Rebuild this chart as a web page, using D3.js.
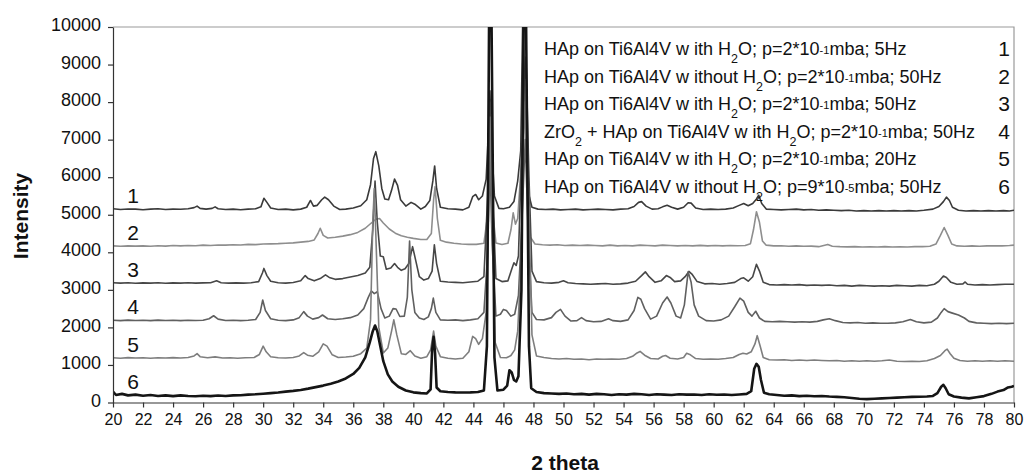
<!DOCTYPE html>
<html>
<head>
<meta charset="utf-8">
<script src="https://cdn.jsdelivr.net/npm/d3@7"></script>
<style>
  body { margin: 0; background: #fff; }
  text { font-family: "Liberation Sans", Arial, sans-serif; fill: #111; }
</style>
</head>
<body>
<svg id="chart"></svg>
<script>
const width = 1025;
const height = 474;
const margin = { top: 27, right: 11, bottom: 71.5, left: 113 };

// tick values
const xTicks = [20, 22, 24, 26, 28, 30, 32, 34, 36, 38, 40, 42, 44, 46, 48, 50,
  52, 54, 56, 58, 60, 62, 64, 66, 68, 70, 72, 74, 76, 78, 80];
const yTicks = [0, 1000, 2000, 3000, 4000, 5000, 6000, 7000, 8000, 9000, 10000];

const seriesNames = ["1", "2", "3", "4", "5", "6"];
const seriesColors = ["#3a3a3a", "#8e8e8e", "#474747", "#606060", "#7e7e7e", "#151515"];
const seriesWidths = [1.6, 1.6, 1.6, 1.6, 1.6, 2.6];

// [2 theta, intensity]
const s1 = [[20.0,5160],[20.5,5140],[21.0,5155],[21.5,5150],[22.0,5135],[22.5,5150],[23.0,5160],[23.5,5140],[24.0,5150],[24.5,5145],[25.0,5160],[25.4,5190],[25.6,5230],[25.8,5170],[26.2,5150],[26.6,5170],[26.8,5210],[27.0,5160],[27.5,5140],[28.0,5150],[28.5,5135],[29.0,5150],[29.5,5160],[29.85,5210],[30.05,5440],[30.25,5330],[30.5,5180],[31.0,5140],[31.5,5150],[32.0,5130],[32.5,5150],[32.9,5200],[33.15,5380],[33.35,5230],[33.6,5250],[33.9,5400],[34.1,5470],[34.35,5400],[34.7,5230],[35.1,5140],[35.5,5150],[36.0,5180],[36.5,5240],[36.9,5400],[37.15,5800],[37.35,6500],[37.5,6680],[37.7,6300],[37.9,5700],[38.1,5420],[38.35,5400],[38.55,5650],[38.75,5950],[38.95,5780],[39.15,5400],[39.5,5230],[39.85,5330],[40.1,5280],[40.5,5150],[40.8,5220],[41.1,5380],[41.3,5900],[41.42,6300],[41.55,5700],[41.8,5200],[42.3,5160],[42.8,5150],[43.3,5130],[43.7,5200],[43.95,5480],[44.15,5540],[44.35,5400],[44.6,5500],[44.85,5950],[45.0,7200],[45.1,8300],[45.2,7000],[45.4,5500],[45.7,5170],[46.0,5160],[46.4,5200],[46.7,5350],[46.95,5900],[47.15,6700],[47.3,10600],[47.45,7500],[47.65,5600],[47.9,5200],[48.3,5150],[48.8,5140],[49.3,5150],[49.8,5130],[50.3,5140],[50.8,5150],[51.3,5130],[51.8,5140],[52.3,5150],[52.8,5140],[53.3,5130],[53.8,5150],[54.3,5160],[54.7,5220],[55.0,5330],[55.2,5350],[55.5,5230],[55.9,5150],[56.3,5160],[56.6,5210],[56.9,5250],[57.2,5200],[57.6,5150],[58.0,5200],[58.3,5320],[58.5,5310],[58.8,5180],[59.3,5140],[59.8,5150],[60.3,5140],[60.8,5150],[61.3,5180],[61.7,5250],[62.0,5300],[62.3,5240],[62.6,5300],[62.85,5420],[63.0,5520],[63.2,5300],[63.5,5150],[64.0,5140],[64.5,5130],[65.0,5140],[65.5,5150],[66.0,5130],[66.5,5140],[67.0,5120],[67.5,5130],[68.0,5120],[68.5,5110],[69.0,5120],[69.5,5100],[70.0,5110],[70.5,5100],[71.0,5110],[71.5,5100],[72.0,5110],[72.5,5100],[73.0,5110],[73.5,5100],[74.0,5120],[74.6,5150],[75.0,5220],[75.3,5350],[75.5,5470],[75.7,5380],[75.9,5200],[76.3,5120],[76.8,5100],[77.3,5110],[77.8,5100],[78.3,5110],[78.8,5100],[79.3,5110],[79.7,5100],[80.0,5120]];

const s2 = [[20.0,4170],[20.5,4160],[21.0,4170],[21.5,4165],[22.0,4170],[22.5,4160],[23.0,4175],[23.5,4165],[24.0,4180],[24.5,4170],[25.0,4180],[25.5,4175],[26.0,4190],[26.5,4180],[27.0,4195],[27.5,4190],[28.0,4200],[28.5,4195],[29.0,4210],[29.5,4205],[30.0,4220],[30.5,4225],[31.0,4230],[31.5,4240],[32.0,4250],[32.5,4270],[33.0,4290],[33.4,4330],[33.65,4500],[33.8,4640],[34.0,4450],[34.3,4380],[34.8,4400],[35.3,4430],[35.8,4470],[36.3,4530],[36.8,4640],[37.2,4780],[37.5,4880],[37.75,4900],[38.0,4780],[38.4,4620],[38.8,4510],[39.2,4440],[39.6,4400],[40.0,4370],[40.5,4340],[40.9,4340],[41.2,4500],[41.35,5400],[41.45,5750],[41.6,4900],[41.8,4320],[42.2,4270],[42.7,4240],[43.2,4220],[43.7,4210],[44.2,4210],[44.7,4240],[44.95,5000],[45.1,7000],[45.25,5200],[45.5,4250],[45.9,4210],[46.3,4240],[46.5,4600],[46.65,5050],[46.8,4750],[46.95,4900],[47.1,5800],[47.4,8000],[47.6,6000],[47.8,4400],[48.1,4220],[48.6,4200],[49.1,4190],[49.6,4200],[50.1,4180],[50.6,4190],[51.1,4180],[51.6,4190],[52.1,4180],[52.6,4170],[53.1,4190],[53.6,4170],[54.1,4180],[54.6,4170],[55.1,4190],[55.6,4180],[56.1,4170],[56.6,4190],[57.1,4180],[57.6,4170],[58.1,4180],[58.6,4170],[59.1,4185],[59.6,4170],[60.1,4180],[60.6,4170],[61.1,4180],[61.6,4175],[62.1,4180],[62.45,4230],[62.65,4600],[62.85,5080],[63.05,4800],[63.25,4300],[63.5,4190],[64.0,4170],[64.5,4175],[65.0,4160],[65.5,4170],[66.0,4160],[66.5,4165],[67.0,4150],[67.4,4190],[67.6,4210],[67.9,4160],[68.4,4150],[68.9,4145],[69.4,4150],[69.9,4140],[70.4,4145],[70.9,4140],[71.4,4150],[71.9,4140],[72.4,4145],[72.9,4140],[73.4,4150],[73.9,4150],[74.4,4160],[74.8,4220],[75.1,4450],[75.35,4660],[75.6,4450],[75.85,4220],[76.2,4170],[76.7,4160],[77.2,4170],[77.7,4160],[78.2,4170],[78.7,4175],[79.2,4170],[79.7,4180],[80.0,4190]];

const s3 = [[20.0,3190],[20.5,3180],[21.0,3190],[21.5,3175],[22.0,3185],[22.5,3180],[23.0,3190],[23.5,3175],[24.0,3185],[24.5,3180],[25.0,3190],[25.5,3180],[26.0,3185],[26.5,3190],[26.9,3240],[27.2,3190],[27.7,3180],[28.2,3185],[28.7,3180],[29.2,3190],[29.7,3220],[29.95,3450],[30.05,3570],[30.25,3380],[30.5,3230],[31.0,3190],[31.5,3180],[32.0,3195],[32.5,3240],[32.8,3380],[33.0,3300],[33.4,3240],[33.8,3300],[34.15,3400],[34.4,3330],[34.8,3280],[35.3,3300],[35.8,3340],[36.3,3380],[36.8,3450],[37.1,3600],[37.3,4600],[37.45,5900],[37.6,4800],[37.8,3900],[38.0,3880],[38.2,3550],[38.5,3580],[38.75,3700],[38.95,3600],[39.2,3520],[39.45,3560],[39.7,3700],[39.95,4150],[40.15,3800],[40.4,3350],[40.7,3260],[41.0,3300],[41.25,3500],[41.4,4200],[41.55,3700],[41.8,3230],[42.3,3210],[42.8,3200],[43.3,3190],[43.8,3210],[44.3,3230],[44.7,3350],[44.95,5500],[45.1,8000],[45.25,5800],[45.5,3300],[45.9,3220],[46.3,3240],[46.55,3550],[46.7,3720],[46.85,3650],[47.0,3900],[47.2,6500],[47.5,9200],[47.7,6000],[47.9,3500],[48.2,3220],[48.7,3190],[49.2,3180],[49.7,3200],[50.0,3240],[50.3,3190],[50.8,3170],[51.3,3160],[51.8,3150],[52.3,3160],[52.8,3170],[53.3,3150],[53.8,3160],[54.3,3180],[54.8,3230],[55.2,3380],[55.45,3480],[55.7,3350],[56.1,3200],[56.5,3240],[56.85,3380],[57.1,3330],[57.4,3220],[57.8,3240],[58.1,3350],[58.35,3490],[58.55,3420],[58.9,3220],[59.4,3160],[59.9,3170],[60.4,3150],[60.9,3170],[61.4,3200],[61.8,3300],[62.0,3320],[62.3,3230],[62.6,3350],[62.85,3680],[63.05,3500],[63.3,3200],[63.7,3140],[64.2,3130],[64.7,3140],[65.2,3130],[65.7,3140],[66.2,3120],[66.7,3130],[67.2,3120],[67.7,3130],[68.2,3110],[68.7,3120],[69.2,3100],[69.7,3120],[70.2,3110],[70.7,3100],[71.2,3110],[71.7,3100],[72.2,3120],[72.7,3110],[73.2,3100],[73.7,3120],[74.2,3110],[74.7,3150],[75.0,3230],[75.3,3370],[75.5,3330],[75.8,3200],[76.2,3150],[76.6,3160],[76.75,3210],[76.9,3150],[77.4,3130],[77.9,3140],[78.4,3130],[78.9,3140],[79.4,3150],[80.0,3150]];

const s4 = [[20.0,2190],[20.5,2180],[21.0,2195],[21.5,2185],[22.0,2190],[22.5,2180],[23.0,2195],[23.5,2185],[24.0,2190],[24.5,2180],[25.0,2190],[25.5,2185],[26.0,2190],[26.4,2230],[26.7,2310],[27.0,2220],[27.5,2185],[28.0,2190],[28.5,2180],[29.0,2190],[29.5,2210],[29.8,2400],[29.97,2730],[30.15,2450],[30.5,2230],[31.0,2190],[31.5,2180],[32.0,2200],[32.4,2260],[32.7,2420],[32.95,2300],[33.3,2220],[33.7,2260],[33.95,2330],[34.3,2230],[34.8,2210],[35.3,2230],[35.8,2260],[36.3,2330],[36.7,2500],[37.0,2800],[37.2,2970],[37.4,2900],[37.6,2950],[37.85,2500],[38.1,2250],[38.4,2300],[38.65,2500],[38.85,2490],[39.1,2290],[39.4,2300],[39.6,2800],[39.75,4300],[39.9,3000],[40.1,2400],[40.4,2250],[40.7,2210],[41.0,2280],[41.2,2500],[41.33,2780],[41.5,2400],[41.8,2200],[42.3,2190],[42.8,2200],[43.3,2180],[43.8,2200],[44.3,2230],[44.7,2400],[44.95,4000],[45.1,6400],[45.25,4200],[45.5,2300],[45.8,2350],[46.0,2480],[46.2,2450],[46.5,2300],[46.75,2350],[47.0,2850],[47.2,4500],[47.45,7000],[47.65,4500],[47.9,2400],[48.2,2210],[48.7,2200],[49.2,2260],[49.5,2400],[49.8,2480],[50.1,2300],[50.5,2170],[50.9,2180],[51.2,2260],[51.5,2180],[52.0,2150],[52.5,2160],[53.0,2230],[53.3,2180],[53.8,2160],[54.3,2200],[54.7,2450],[54.95,2800],[55.15,2750],[55.4,2500],[55.8,2220],[56.2,2300],[56.6,2650],[56.9,2810],[57.15,2650],[57.5,2300],[57.8,2250],[58.05,2600],[58.3,3480],[58.5,3200],[58.7,2600],[59.0,2300],[59.5,2180],[60.0,2170],[60.5,2200],[61.0,2300],[61.4,2550],[61.75,2780],[62.0,2700],[62.3,2400],[62.55,2300],[62.8,2430],[63.05,2250],[63.4,2160],[63.9,2150],[64.4,2160],[64.9,2150],[65.4,2140],[65.9,2150],[66.4,2140],[66.9,2160],[67.3,2200],[67.7,2230],[68.1,2180],[68.6,2130],[69.1,2120],[69.6,2130],[70.1,2110],[70.6,2120],[71.1,2110],[71.6,2110],[72.1,2120],[72.6,2150],[73.1,2210],[73.5,2150],[74.0,2120],[74.5,2140],[74.9,2250],[75.15,2400],[75.35,2500],[75.6,2420],[75.9,2380],[76.3,2330],[76.7,2250],[77.0,2160],[77.5,2120],[78.0,2110],[78.5,2100],[79.0,2110],[79.5,2100],[80.0,2110]];

const s5 = [[20.0,1190],[20.5,1180],[21.0,1195],[21.5,1185],[22.0,1190],[22.5,1180],[23.0,1190],[23.5,1185],[24.0,1195],[24.5,1185],[25.0,1200],[25.4,1240],[25.6,1300],[25.8,1220],[26.3,1190],[26.8,1215],[27.3,1185],[27.8,1190],[28.3,1180],[28.8,1190],[29.4,1200],[29.75,1280],[30.0,1500],[30.2,1350],[30.5,1220],[31.0,1190],[31.5,1185],[32.0,1200],[32.4,1240],[32.7,1330],[32.95,1260],[33.3,1230],[33.7,1350],[34.0,1560],[34.25,1500],[34.6,1270],[35.0,1200],[35.5,1210],[36.0,1230],[36.5,1300],[36.9,1450],[37.15,2200],[37.3,4800],[37.4,5700],[37.5,4500],[37.7,2000],[38.0,1320],[38.3,1450],[38.55,1900],[38.7,2200],[38.9,1800],[39.2,1300],[39.5,1280],[39.8,1380],[40.1,1240],[40.5,1180],[40.9,1220],[41.15,1400],[41.35,1900],[41.5,1500],[41.8,1220],[42.3,1180],[42.8,1160],[43.3,1180],[43.7,1350],[43.95,1760],[44.15,1700],[44.35,1550],[44.6,1700],[44.85,2400],[45.0,5000],[45.1,7600],[45.25,5000],[45.45,1600],[45.8,1200],[46.2,1190],[46.5,1250],[46.75,1400],[46.95,1900],[47.15,3500],[47.35,7000],[47.5,8600],[47.7,5000],[47.9,1800],[48.2,1240],[48.7,1200],[49.2,1170],[49.7,1160],[50.2,1170],[50.7,1150],[51.2,1160],[51.7,1140],[52.2,1160],[52.7,1150],[53.2,1160],[53.7,1150],[54.2,1170],[54.6,1230],[54.9,1320],[55.1,1360],[55.4,1260],[55.8,1170],[56.3,1160],[56.6,1230],[56.8,1250],[57.1,1180],[57.6,1160],[58.0,1200],[58.2,1310],[58.45,1270],[58.8,1170],[59.3,1150],[59.8,1160],[60.3,1150],[60.8,1170],[61.3,1200],[61.7,1280],[61.95,1310],[62.2,1290],[62.5,1350],[62.75,1560],[62.9,1780],[63.1,1500],[63.3,1200],[63.7,1140],[64.2,1130],[64.7,1140],[65.2,1120],[65.7,1130],[66.2,1120],[66.7,1130],[67.2,1120],[67.7,1110],[68.2,1120],[68.7,1100],[69.2,1110],[69.7,1100],[70.2,1110],[70.7,1100],[71.2,1110],[71.7,1130],[72.2,1100],[72.7,1090],[73.2,1100],[73.7,1090],[74.2,1110],[74.7,1170],[75.1,1250],[75.4,1380],[75.55,1420],[75.75,1300],[76.0,1180],[76.4,1120],[76.9,1100],[77.4,1110],[77.9,1100],[78.4,1110],[78.9,1100],[79.4,1110],[80.0,1100]];

const s6 = [[20.0,290],[20.2,200],[20.6,230],[21.0,190],[21.5,210],[22.0,180],[22.5,200],[23.0,175],[23.5,190],[24.0,170],[24.5,190],[25.0,175],[25.5,165],[26.0,180],[26.5,170],[27.0,185],[27.5,175],[28.0,190],[28.5,195],[29.0,210],[29.5,220],[30.0,235],[30.5,250],[31.0,265],[31.5,290],[32.0,310],[32.5,335],[33.0,370],[33.5,410],[34.0,450],[34.5,500],[35.0,560],[35.5,640],[36.0,760],[36.4,920],[36.8,1200],[37.1,1600],[37.3,1900],[37.45,2050],[37.6,1900],[37.8,1500],[38.0,1100],[38.3,750],[38.6,560],[39.0,420],[39.5,320],[40.0,270],[40.5,250],[40.9,240],[41.15,350],[41.25,1400],[41.35,1750],[41.45,1300],[41.55,400],[41.8,300],[42.3,280],[42.8,270],[43.3,265],[43.8,270],[44.3,280],[44.7,320],[44.9,1500],[45.05,10500],[45.2,10500],[45.4,1200],[45.6,320],[46.0,340],[46.25,450],[46.4,860],[46.55,800],[46.7,600],[46.85,560],[47.0,700],[47.2,3000],[47.35,10500],[47.5,10500],[47.7,1500],[47.85,380],[48.2,280],[48.7,250],[49.2,240],[49.7,230],[50.2,240],[50.7,220],[51.2,230],[51.7,210],[52.2,230],[52.7,220],[53.2,200],[53.7,220],[54.2,210],[54.7,230],[55.2,220],[55.7,200],[56.2,220],[56.7,210],[57.2,200],[57.7,220],[58.2,210],[58.7,215],[59.2,200],[59.7,220],[60.2,205],[60.7,215],[61.2,200],[61.7,215],[62.2,230],[62.5,300],[62.7,900],[62.85,1030],[63.0,950],[63.15,600],[63.35,260],[63.7,220],[64.2,200],[64.7,180],[65.2,190],[65.7,170],[66.2,180],[66.7,165],[67.2,175],[67.7,160],[68.2,150],[68.7,140],[69.2,120],[69.7,100],[70.2,90],[70.7,100],[71.2,110],[71.7,120],[72.2,130],[72.7,140],[73.2,150],[73.7,155],[74.2,160],[74.6,175],[74.9,250],[75.15,420],[75.3,470],[75.45,380],[75.65,220],[76.0,160],[76.5,130],[77.0,110],[77.5,140],[78.0,170],[78.5,230],[78.9,290],[79.3,330],[79.6,400],[79.85,420],[80.0,440]];

// legend text: [text, kind] pieces, kind "" normal, "sub" subscript, "sm" small
const legendLabels = [
  [["HAp on Ti6Al4V w ith H", ""], ["2", "sub"], ["O; p=2*10", ""], ["-1", "sm"], ["mba; 5Hz", ""]],
  [["HAp on Ti6Al4V w ithout H", ""], ["2", "sub"], ["O; p=2*10", ""], ["-1", "sm"], ["mba; 50Hz", ""]],
  [["HAp on Ti6Al4V w ith H", ""], ["2", "sub"], ["O; p=2*10", ""], ["-1", "sm"], ["mba; 50Hz", ""]],
  [["ZrO", ""], ["2", "sub"], [" + HAp on Ti6Al4V w ith H", ""], ["2", "sub"], ["O; p=2*10", ""], ["-1", "sm"], ["mba; 50Hz", ""]],
  [["HAp on Ti6Al4V w ith H", ""], ["2", "sub"], ["O; p=2*10", ""], ["-1", "sm"], ["mba; 20Hz", ""]],
  [["HAp on Ti6Al4V w ithout H", ""], ["2", "sub"], ["O; p=9*10", ""], ["-5", "sm"], ["mba; 50Hz", ""]]
];

const allSeries = [s1, s2, s3, s4, s5, s6];

let svg = d3.select("#chart").attr("width", width).attr("height", height);
svg.append("rect").attr("width", width).attr("height", height).attr("fill", "#fff");

const xScale = d3.scaleLinear().domain([20, 80]).range([margin.left, width - margin.right]);
const yScale = d3.scaleLinear().domain([0, 10000]).range([height - margin.bottom, margin.top]);

// light frame on top and right
svg.append("path")
  .attr("d", `M${xScale(20)},${yScale(10000)}H${xScale(80)}V${yScale(0)}`)
  .attr("fill", "none")
  .attr("stroke", "#9a9a9a")
  .attr("stroke-width", 1.2);

svg.append("clipPath").attr("id", "plotclip")
  .append("rect")
  .attr("x", xScale(20)).attr("y", yScale(10000))
  .attr("width", xScale(80) - xScale(20))
  .attr("height", yScale(0) - yScale(10000));

// lines
const line = d3.line().x((d) => xScale(d[0])).y((d) => yScale(d[1]));
const lines = svg.append("g").attr("clip-path", "url(#plotclip)");
allSeries.forEach((s, i) => {
  lines.append("path")
    .datum(s)
    .attr("d", line)
    .attr("fill", "none")
    .attr("stroke", seriesColors[i])
    .attr("stroke-width", seriesWidths[i])
    .attr("stroke-linejoin", "round");
});

// axes
const xAxis = d3.axisBottom(xScale).tickValues(xTicks).tickSize(5).tickSizeOuter(0).tickPadding(6);
const yAxis = d3.axisLeft(yScale).tickValues(yTicks).tickFormat(d3.format("d"))
  .tickSize(5).tickSizeOuter(0).tickPadding(7);

let gx = svg.append("g")
  .attr("transform", "translate(0, " + yScale(0) + ")")
  .call(xAxis);
gx.selectAll("text").attr("font-size", 16).attr("fill", "#111").attr("font-family", "Liberation Sans, Arial, sans-serif");

let gy = svg.append("g")
  .attr("transform", "translate(" + xScale(20) + ", 0)")
  .call(yAxis);
gy.selectAll("text").attr("font-size", 18).attr("fill", "#111").attr("dy", "0.2em").attr("font-family", "Liberation Sans, Arial, sans-serif");

svg.selectAll(".domain, .tick line").attr("stroke", "#333").attr("stroke-width", 1.2);

// axis titles
svg.append("text")
  .attr("x", 565).attr("y", 470)
  .attr("text-anchor", "middle")
  .attr("font-size", 21).attr("font-weight", "bold")
  .text("2 theta");

svg.append("text")
  .attr("transform", "translate(28, 216) rotate(-90)")
  .attr("text-anchor", "middle")
  .attr("font-size", 21).attr("font-weight", "bold")
  .text("Intensity");

// numbers next to the curves
allSeries.forEach((s, i) => {
  const level = d3.median(s.slice(0, 8), (d) => d[1]);
  svg.append("text")
    .attr("x", xScale(20.95))
    .attr("y", yScale(level) - 6)
    .attr("font-size", 21)
    .text(seriesNames[i]);
});

// legend
const legend = svg.append("g");
legendLabels.forEach((parts, i) => {
  const y = 55 + i * 27.6;
  let t = legend.append("text").attr("x", 544).attr("y", y).attr("font-size", 18);
  parts.forEach((p) => {
    let ts = t.append("tspan").text(p[0]);
    if (p[1] === "sub") {
      ts.attr("font-size", 12.5).attr("y", y + 8);
    } else if (p[1] === "sm") {
      ts.attr("font-size", 11).attr("y", y - 1);
    } else {
      ts.attr("y", y);
    }
  });
  legend.append("text")
    .attr("x", 1010).attr("y", y + 1)
    .attr("text-anchor", "end")
    .attr("font-size", 21)
    .text(seriesNames[i]);
});
</script>
</body>
</html>
